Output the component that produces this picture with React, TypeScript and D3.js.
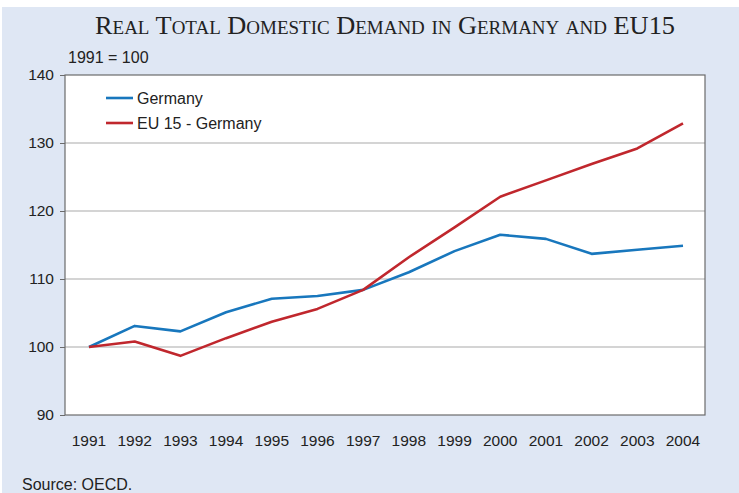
import React, { useEffect, useRef } from "react";
import * as d3 from "d3";

const years = [1991, 1992, 1993, 1994, 1995, 1996, 1997, 1998, 1999, 2000, 2001, 2002, 2003, 2004];
const germany = [100, 103.1, 102.3, 105.1, 107.1, 107.5, 108.4, 111.0, 114.1, 116.5, 115.9, 113.7, 114.3, 114.9];
const eu15 = [100, 100.8, 98.7, 101.3, 103.7, 105.6, 108.4, 113.2, 117.6, 122.1, 124.5, 126.9, 129.2, 132.9];
const yTicks = [90, 100, 110, 120, 130, 140];

const seriesList = [
  { name: "Germany", values: germany, color: "#1877bd" },
  { name: "EU 15 - Germany", values: eu15, color: "#c0272d" },
];

const W = 739;
const H = 493;
const margin = { left: 65, right: 34, top: 75, bottom: 78 };
const sans = "Liberation Sans, Arial, sans-serif";

function App() {
  const svgRef = useRef<SVGSVGElement>(null);

  useEffect(() => {
    const svg = d3.select(svgRef.current);
    svg.selectAll("*").remove();

    // background panel
    svg.append("rect").attr("x", 2).attr("y", 7).attr("width", W - 2).attr("height", H - 7).attr("fill", "#dfe7f4");

    const x = d3.scalePoint<number>().domain(years).range([89, 683]);
    const y = d3.scaleLinear().domain([90, 140]).range([H - margin.bottom, margin.top]);

    // plot area
    svg.append("rect")
      .attr("x", margin.left).attr("y", margin.top)
      .attr("width", W - margin.left - margin.right)
      .attr("height", H - margin.top - margin.bottom)
      .attr("fill", "#ffffff");

    // gridlines
    svg.append("g")
      .selectAll("line")
      .data(yTicks.filter((t) => t !== 90 && t !== 140))
      .join("line")
      .attr("x1", margin.left).attr("x2", W - margin.right)
      .attr("y1", (d) => y(d)).attr("y2", (d) => y(d))
      .attr("stroke", "#a9a9a9").attr("stroke-width", 1);

    // border
    svg.append("rect")
      .attr("x", margin.left).attr("y", margin.top)
      .attr("width", W - margin.left - margin.right)
      .attr("height", H - margin.top - margin.bottom)
      .attr("fill", "none").attr("stroke", "#6b6b6b").attr("stroke-width", 1.2);

    // y axis
    const yAxis = svg.append("g")
      .attr("transform", `translate(${margin.left},0)`)
      .call(d3.axisLeft(y).tickValues(yTicks).tickSize(5).tickPadding(6));
    yAxis.select(".domain").remove();
    yAxis.selectAll("line").attr("stroke", "#6b6b6b");
    yAxis.selectAll("text").attr("font-family", sans).attr("font-size", 15.5).attr("fill", "#222");

    // x labels
    svg.append("g")
      .selectAll("text")
      .data(years)
      .join("text")
      .attr("x", (d) => x(d) as number)
      .attr("y", 446)
      .attr("text-anchor", "middle")
      .attr("font-family", sans)
      .attr("font-size", 15.5)
      .attr("fill", "#222")
      .text((d) => d);

    // lines
    const line = d3.line<number>()
      .x((_, i) => x(years[i]) as number)
      .y((d) => y(d));

    svg.append("g")
      .selectAll("path")
      .data(seriesList)
      .join("path")
      .attr("d", (d) => line(d.values))
      .attr("fill", "none")
      .attr("stroke", (d) => d.color)
      .attr("stroke-width", 2.6)
      .attr("stroke-linejoin", "round");

    // legend
    const legend = svg.append("g").selectAll("g").data(seriesList).join("g")
      .attr("transform", (_, i) => `translate(106,${98 + i * 25})`);
    legend.append("line").attr("x1", 0).attr("x2", 27).attr("y1", 0).attr("y2", 0)
      .attr("stroke", (d) => d.color).attr("stroke-width", 2.6);
    legend.append("text").attr("x", 31).attr("y", 5.5)
      .attr("font-family", sans).attr("font-size", 16).attr("fill", "#222")
      .text((d) => d.name);

    // titles
    svg.append("text")
      .attr("x", 385).attr("y", 34)
      .attr("text-anchor", "middle")
      .attr("font-family", "Liberation Serif, Times New Roman, serif")
      .attr("font-size", 25)
      .attr("font-variant", "small-caps")
      .attr("fill", "#222")
      .attr("textLength", 580)
      .attr("lengthAdjust", "spacingAndGlyphs")
      .text("Real Total Domestic Demand in Germany and EU15");

    svg.append("text")
      .attr("x", 68).attr("y", 63)
      .attr("font-family", sans).attr("font-size", 16).attr("fill", "#222")
      .text("1991 = 100");

    svg.append("text")
      .attr("x", 22).attr("y", 490)
      .attr("font-family", sans).attr("font-size", 16).attr("fill", "#222")
      .text("Source: OECD.");
  }, []);

  return (
    <svg
      ref={svgRef}
      width={W}
      height={H}
      style={{ position: "absolute", left: 0, top: 0, background: "#ffffff" }}
    />
  );
}

export default App;
